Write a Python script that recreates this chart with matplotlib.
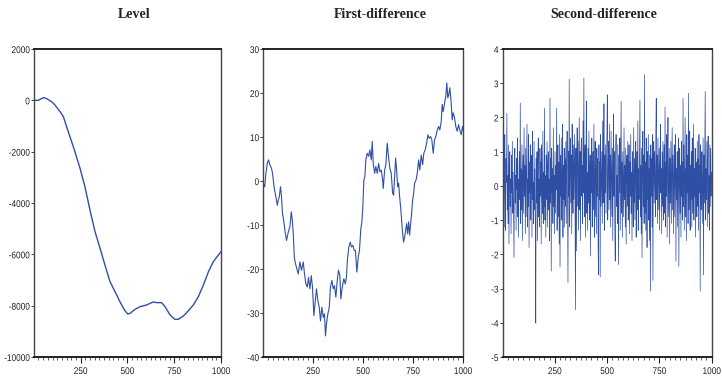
import matplotlib
matplotlib.use("Agg")
import matplotlib.pyplot as plt
from matplotlib import font_manager
from matplotlib.ticker import MultipleLocator, FixedLocator
from matplotlib.patheffects import AbstractPathEffect
from matplotlib.transforms import Affine2D
import numpy as np

# ---------------- data ----------------
titles = ["Level", "First-difference", "Second-difference"]

level_t = [1, 24, 51, 69, 95, 113, 140, 158, 175, 211, 247, 273, 300, 327, 354,
           380, 407, 434, 460, 484, 502, 514, 541, 567, 603, 621, 638, 656, 683,
           701, 728, 754, 772, 799, 826, 852, 879, 906, 933, 959, 986, 1000]
level_v = [0, 0, 104, 65, -52, -182, -440, -636, -1026, -1805, -2650, -3364,
           -4273, -5117, -5766, -6415, -7065, -7455, -7844, -8169, -8325, -8300,
           -8143, -8039, -7974, -7909, -7857, -7883, -7883, -8039, -8364, -8532,
           -8532, -8403, -8195, -7974, -7649, -7195, -6675, -6286, -6026, -5896]

d1_t = [1, 8, 14, 21, 27, 34, 42, 47, 51, 56, 59, 64, 71, 76, 81, 87, 92, 97,
        104, 109, 117, 126, 134, 141, 146, 151, 156, 162, 171, 176, 184, 192,
        201, 207, 214, 221, 227, 234, 241, 247, 254, 261, 267, 274, 281, 287,
        294, 301, 307, 312, 317, 324, 331, 337, 344, 351, 357, 364, 371, 377,
        384, 389, 396, 404, 411, 417, 422, 429, 436, 442, 449, 456, 462, 469,
        476, 482, 489, 494, 499, 504, 509, 514, 521, 528, 534, 541, 546, 551,
        558, 564, 571, 578, 584, 591, 598, 601, 608, 614, 621, 628, 634, 641,
        648, 653, 658, 663, 668, 673, 678, 683, 688, 693, 698, 703, 708, 713,
        718, 723, 728, 733, 738, 743, 748, 753, 758, 765, 771, 778, 784, 791,
        798, 804, 811, 818, 824, 831, 838, 844, 851, 858, 864, 871, 878, 884,
        891, 896, 901, 908, 914, 919, 924, 929, 934, 941, 946, 951, 958, 964,
        971, 978, 984, 991, 998, 1000]
d1_v = [-0.5, -1.3, 1.75, 4.0, 4.8, 3.7, 2.9, 1.75, 0.2, -1.7, -2.4, -3.6, -5.5,
        -4.3, -3.6, -1.3, -3.6, -7.4, -9.3, -11.2, -13.5, -11.6, -10.4, -7.0,
        -8.9, -12.0, -17.3, -18.8, -20.3, -21.1, -18.4, -20.3, -18.4, -21.1,
        -23.4, -24.1, -21.9, -24.5, -21.5, -24.1, -30.6, -27.2, -24.5, -27.2,
        -28.7, -31.8, -28.7, -31.0, -30.2, -35.2, -32.5, -30.2, -28.7, -24.1,
        -22.6, -24.5, -23.8, -26.4, -22.6, -20.3, -21.5, -26.8, -24.1, -22.2,
        -23.4, -21.9, -17.7, -15.0, -13.9, -15.0, -14.6, -15.8, -15.8, -20.7,
        -17.3, -15.8, -10.8, -9.3, -5.9, 0.2, 1.0, 4.8, 6.3, 5.6, 7.1, 4.8, 9.0,
        4.0, 1.75, 3.3, 1.75, 4.0, 2.1, 2.5, 0.2, -1.7, 2.5, 3.7, 8.6, 5.2, 2.9,
        1.75, -2.8, -3.2, 1.0, 5.2, 2.5, -1.3, -0.5, -3.6, -5.9, -8.9, -12.0,
        -13.9, -12.7, -11.2, -9.7, -12.0, -9.3, -12.3, -9.7, -7.4, -4.3, -2.8,
        -0.5, 0.2, 1.75, 4.8, 2.5, 5.9, 3.7, 6.3, 7.1, 8.6, 10.5, 9.7, 10.1, 9.4,
        6.3, 9.4, 10.1, 11.6, 12.4, 11.6, 13.5, 17.4, 15.8, 17.7, 19.3, 22.3,
        18.9, 19.6, 21.2, 17.7, 13.9, 15.5, 14.3, 12.4, 11.3, 12.8, 11.6, 10.5,
        12.4, 11.6]

d2_v = [
    0.4, -0.9, 1.93, -1.2, 0.6, 1.5, -0.3, -1.3, 0.8, 0.1,
    2.12, -0.7, 0.3, -1.1, 1.2, -1.7, 0.5, 1.0, -0.6, 0.2,
    -1.4, 0.9, -0.2, 1.3, -0.8, 0.4, -1.0, -2.09, 0.7, 1.1,
    -0.5, 0.3, -1.3, 0.8, -0.1, 1.4, -0.9, 0.2, -1.5, 0.6,
    1.0, -0.4, 2.42, -1.1, 0.5, -0.7, 1.2, -1.6, 0.3, 0.9,
    -0.8, 1.7, -0.3, 0.6, -1.4, 1.1, -0.9, 0.4, 1.8, -1.2,
    0.2, -0.6, 1.5, -1.8, 0.7, -0.2, 1.2, -1.0, 0.3, 0.9,
    -1.5, 1.6, -0.4, 0.1, -1.1, 1.3, -0.7, 0.5, -1.3, -4.01,
    0.8, -0.5, 1.0, -1.6, 0.6, 1.4, -0.9, 0.2, -1.2, 1.1,
    -0.3, 0.7, -1.7, 1.2, 0.0, -0.8, 1.6, -1.1, 0.4, -0.6,
    2.27, -1.0, 0.3, -1.5, 0.9, -0.4, 1.3, -1.2, 0.6, 1.0,
    -0.7, 0.2, -1.6, 2.56, -0.5, 0.8, -2.49, 1.1, -0.2, 0.5,
    -1.1, 1.7, -0.6, 0.3, -1.4, 1.0, -0.8, 0.6, -0.1, 2.27,
    -1.3, 0.4, 1.2, -0.9, 0.7, -1.7, 1.5, -2.37, 0.9, -0.3,
    1.4, -1.0, 0.2, 1.8, -1.5, 0.6, -0.4, 1.1, -1.2, 0.8,
    -0.6, 1.3, -1.1, 0.5, 1.6, -0.9, -2.83, 1.0, -0.3, 3.12,
    -1.2, 0.7, 1.4, -0.5, 0.9, -1.4, 1.8, 0.2, -0.8, 1.2,
    -0.4, 0.6, 1.5, -1.0, -3.62, 1.1, -1.9, 0.8, 1.7, -0.6,
    1.3, -1.3, 0.4, 2.0, -0.7, 1.0, -1.6, 0.9, 1.4, -0.3,
    0.6, -1.1, 1.9, -0.2, 3.15, -0.9, 0.5, 1.2, -1.5, 0.8,
    2.48, -0.8, 0.4, -1.3, 1.1, -0.5, 1.6, -1.0, 0.3, 0.9,
    -2.05, 0.7, -0.2, 1.4, -1.2, 0.5, 1.0, -0.7, 1.8, -1.5,
    0.2, 1.3, -0.9, 0.6, -1.4, 1.1, -0.3, 0.8, -1.8, -2.6,
    1.2, -0.4, 0.7, -2.66, 1.5, -0.6, 0.3, 1.0, -1.1, 1.9,
    -0.5, 0.4, 2.4, -1.3, 0.9, -0.2, 1.2, -0.8, 0.6, 1.4,
    2.66, -1.0, 0.5, 1.3, -0.7, 1.8, -0.4, 0.9, -1.2, 1.6,
    0.2, -0.9, 1.1, -1.6, 0.6, 2.1, -0.3, 1.0, -1.4, -2.2,
    0.8, 1.5, -0.6, 0.3, -1.1, 1.2, -0.5, -2.3, 0.9, -0.2,
    1.4, -1.3, 0.4, 2.47, -0.8, 0.7, -1.5, 1.0, 0.1, -0.9,
    1.7, -0.4, 0.6, -1.2, 1.1, -1.7, 0.5, 0.9, -0.6, 1.3,
    -1.0, 0.3, 1.2, -1.4, 0.7, -0.3, 1.5, -0.8, 0.4, -1.6,
    1.0, 0.2, -1.2, 1.7, -0.5, 0.8, -1.0, 0.6, 1.3, -1.5,
    0.1, 1.0, -0.7, 1.9, -1.3, 0.5, -0.4, 1.2, 2.5, -0.9,
    0.6, -1.4, 1.1, -2.1, 0.4, 1.6, -0.6, 0.9, -1.1, 3.25,
    -0.8, 0.7, -1.3, 1.4, 0.0, -1.8, 1.0, -0.4, 1.5, -1.0,
    0.5, -1.6, 0.9, -3.07, 1.2, -0.3, 0.8, -1.2, 1.5, -2.76,
    0.7, 1.3, -0.5, 1.0, 0.2, -0.9, 1.6, 2.56, -0.4, 0.9,
    -1.1, 1.4, 0.3, -0.7, 1.1, -1.3, 0.6, 1.8, -0.2, 0.5,
    -1.4, 1.0, -0.6, 1.3, -1.0, 0.4, 1.2, -0.8, 2.3, -1.2,
    0.7, -0.3, 1.5, -1.5, 0.6, 2.0, -0.9, 0.2, 1.1, -1.7,
    0.8, -0.5, 1.3, -1.1, 0.4, 1.7, -0.7, 0.9, -1.4, 0.3,
    1.2, -0.9, 0.6, 1.5, -2.2, 0.5, -0.4, 1.0, -1.2, 0.8,
    1.4, -2.35, 0.2, 1.1, -0.8, 0.6, -1.5, 1.3, -0.3, 0.7,
    -1.0, 2.56, -0.6, 1.2, -1.3, 0.4, 2.0, -0.9, 0.5, -1.6,
    1.5, -0.2, 0.9, -1.1, 2.71, -0.7, 0.3, 1.6, -1.3, 0.6,
    -0.4, 1.0, -1.2, 1.4, 0.1, -0.8, 1.8, -1.0, 0.5, -0.3,
    1.1, -1.5, 0.7, 0.2, -0.9, 1.3, -0.6, 0.8, -1.3, 1.5,
    -0.2, 0.6, -3.07, 1.2, -0.7, 0.4, 1.0, -1.1, 0.3, 1.4,
    -2.6, 0.9, -0.5, 1.1, 2.76, -1.0, 0.5, -0.4, 1.3, -1.2,
    0.7, 1.45, -0.8, 0.3, -1.3, 1.2, -0.6, 1.1, -0.3, 0.4,
]
d2_t = list(range(1, 1001, 2))

y_limits = [(-10000, 2000), (-40, 30), (-5, 4)]
y_steps = [2000, 10, 1]
x_major = [250, 500, 750, 1000]

# ---------------- style ----------------
plt.rcParams["axes.unicode_minus"] = False


def pick(fams):
    for f in fams:
        try:
            font_manager.findfont(f, fallback_to_default=False)
            return f
        except Exception:
            pass
    return "DejaVu Sans"


tick_font = pick(["Liberation Sans Narrow", "Arial Narrow", "Liberation Sans"])
title_font = pick(["Liberation Serif", "DejaVu Serif"])
narrow_native = "Narrow" in tick_font
tick_size = 7.5 if narrow_native else 7.0


class Condense(AbstractPathEffect):
    """Squeeze glyphs horizontally to imitate a narrow typeface."""

    def __init__(self, sx, anchor):
        super().__init__()
        self.sx = sx
        self.anchor = anchor

    def draw_path(self, renderer, gc, tpath, affine, rgbFace=None):
        v = tpath.vertices
        if len(v) == 0:
            return
        if self.anchor == "right":
            x0 = v[:, 0].max()
        else:
            x0 = 0.5 * (v[:, 0].max() + v[:, 0].min())
        t = Affine2D().translate(-x0, 0).scale(self.sx, 1).translate(x0, 0) + affine
        renderer.draw_path(gc, tpath, t, rgbFace)


line_color = "#2F4FA5"

fig = plt.figure(figsize=(7.22, 3.82), dpi=100)
rects = [
    (34 / 722, 1 - 357 / 382, 187 / 722, 308 / 382),
    (263.3 / 722, 1 - 357 / 382, 199.7 / 722, 308 / 382),
    (502.7 / 722, 1 - 357 / 382, 209 / 722, 308 / 382),
]
title_x = [134 / 722, 380 / 722, 604 / 722]
series = [(level_t, level_v), (d1_t, d1_v), (d2_t, d2_v)]
line_w = [1.0, 0.8, 0.5]

for k in range(3):
    ax = fig.add_axes(rects[k])
    t, v = series[k]
    ax.plot(t, v, color=line_color, lw=line_w[k])
    ax.set_xlim(1, 1000)
    ax.set_ylim(*y_limits[k])
    ax.yaxis.set_major_locator(MultipleLocator(y_steps[k]))
    ax.xaxis.set_major_locator(FixedLocator(x_major))
    ax.xaxis.set_minor_locator(MultipleLocator(25))
    for side in ["top", "bottom"]:
        ax.spines[side].set_linewidth(1.4)
        ax.spines[side].set_color("#222222")
    for side in ["left", "right"]:
        ax.spines[side].set_linewidth(1.0)
        ax.spines[side].set_color("#444444")
    ax.tick_params(axis="x", which="major", direction="out", length=4.5, width=0.8,
                   pad=2, labelsize=tick_size, colors="#222222")
    ax.tick_params(axis="x", which="minor", direction="out", length=2.5, width=0.6,
                   colors="#444444")
    ax.tick_params(axis="y", which="major", direction="out", length=2, width=0.6,
                   pad=1, labelsize=tick_size, colors="#222222")
    for lab in ax.get_xticklabels():
        lab.set_family(tick_font)
        if not narrow_native:
            lab.set_path_effects([Condense(0.85, "center")])
    for lab in ax.get_yticklabels():
        lab.set_family(tick_font)
        if not narrow_native:
            lab.set_path_effects([Condense(0.85, "right")])
    fig.text(title_x[k], 1 - 15 / 382, titles[k], ha="center", va="center",
             family=title_font, fontweight="bold", fontsize=10, color="#222222")

fig.savefig("out.png", dpi=100)
